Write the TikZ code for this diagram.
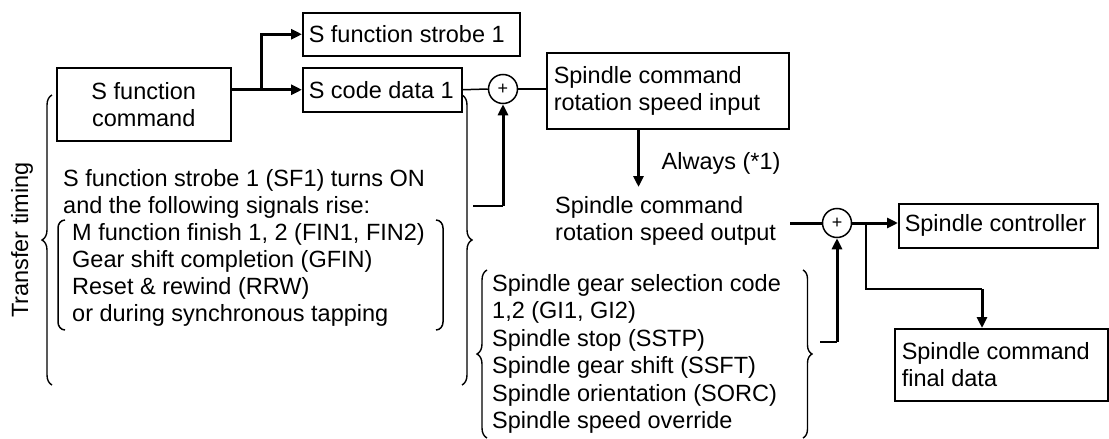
\documentclass[tikz,border=0pt]{standalone}
\usepackage{fontspec}
\setmainfont{Liberation Sans}
\usetikzlibrary{arrows.meta,decorations.pathreplacing}
\begin{document}
\begin{tikzpicture}[x=1pt,y=-1pt,
  every node/.style={font=\fontsize{23.5}{27}\selectfont},
  box/.style={draw, line width=1.5pt, anchor=north west, inner xsep=6pt, inner ysep=0pt, align=flush left},
  sumnode/.style={draw, circle, line width=1.5pt, minimum size=29pt, inner sep=0pt, font=\fontsize{18}{18}\selectfont},
  thinline/.style={line width=1.5pt},
  thickline/.style={line width=3pt},
  thickarrow/.style={line width=3pt, -{Triangle[length=11pt,width=10pt]}},
  bracedeco/.style={line width=1.4pt, decorate, decoration={brace, amplitude=#1}},
  txt/.style={anchor=west, inner sep=0pt, align=left}
]
\useasboundingbox (0,0) rectangle (1109,439);

% boxes
\node[box, align=center, inner xsep=0pt, minimum width=174pt, minimum height=73pt] (cmd) at (56,67) {S function\\command};
\node[box, text width=205pt, minimum height=43pt] (strobe) at (302,12) {S function strobe 1};
\node[box, text width=147pt, minimum height=44pt] (code) at (302,67) {S code data 1};
\node[box, inner xsep=7pt, text width=228pt, minimum height=76pt] (input) at (546,52) {Spindle command\\rotation speed input};
\node[box, text width=187pt, minimum height=44pt] (ctrl) at (898,203) {Spindle controller};
\node[box, inner xsep=7pt, text width=199pt, minimum height=72pt] (final) at (894,328) {Spindle command\\final data};

\node[sumnode] (s1) at (503,89) {+};
\node[sumnode] (s2) at (837,223) {+};

% texts
\node[txt] (out) at (555,221) {Spindle command\\rotation speed output};
\node[txt] (always) at (661.5,163) {Always (*1)};
\node[txt] (tx) at (63,193.5) {S function strobe 1 (SF1) turns ON\\and the following signals rise:};
\node[txt] (lst) at (72,274.5) {M function finish 1, 2 (FIN1, FIN2)\\Gear shift completion (GFIN)\\Reset \& rewind (RRW)\\or during synchronous tapping};
\node[txt, font=\fontsize{23.5}{27.5}\selectfont] (sig) at (492,354) {Spindle gear selection code\\1,2 (GI1, GI2)\\Spindle stop (SSTP)\\Spindle gear shift (SSFT)\\Spindle orientation (SORC)\\Spindle speed override};
\node[rotate=90, inner sep=0pt] (tt) at (22,240) {Transfer timing};

% braces
\draw[bracedeco=10pt] (52,385) -- (52,95);
\draw[bracedeco=10pt] (462,95) -- (462,385);
\draw[bracedeco=10pt] (487,438) -- (487,270);
\draw[bracedeco=9pt] (803,270) -- (803,438);
\draw[thinline] (65,220) to[out=180,in=90] (58,228) -- (58,322) to[out=-90,in=180] (65,330);
\draw[thinline] (436,220) to[out=0,in=90] (443,228) -- (443,322) to[out=-90,in=0] (436,330);

% connectors
\coordinate (br1) at (261,89);
\draw[thickarrow] (cmd.east |- code.west) -- (code.west);
\draw[thickarrow] (br1) |- (strobe.west);
\draw[thinline] (code.east) -- (s1.west);
\draw[thinline] (s1.east) -- (s1.east -| input.west);

\coordinate (rb1) at (473,206);
\coordinate (rb1c) at (503,206);
\draw[thinline] (rb1) -- (rb1c);
\draw[thickarrow] (rb1c) -- (s1.south);

\coordinate (al) at (638.5,187);
\draw[thickarrow] (input.south -| al) -- (al);

\coordinate (ol) at (790,223);
\draw[thickline] (ol) -- (s2.west);
\draw[thickarrow] (s2.east) -- (s2.east -| ctrl.west);

\coordinate (b2) at (866,223);
\coordinate (b3) at (982,289);
\draw[thinline] (b2) |- (b3);
\draw[thickarrow] (b3) -- (b3 |- final.north);

\coordinate (sb) at (820,342);
\coordinate (sbc) at (837,342);
\draw[thinline] (sb) -- (sbc);
\draw[thickarrow] (sbc) -- (s2.south);
\end{tikzpicture}
\end{document}
